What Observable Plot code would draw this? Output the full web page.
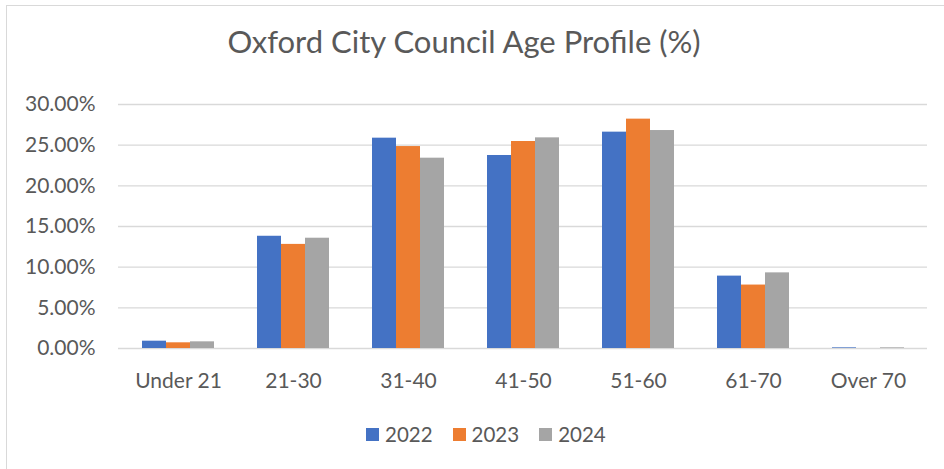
<!DOCTYPE html>
<html>
<head>
<meta charset="utf-8">
<script src="https://cdn.jsdelivr.net/npm/d3@7"></script>
<script src="https://cdn.jsdelivr.net/npm/@observablehq/plot@0.6"></script>
<style>
  html, body { margin: 0; padding: 0; background: #ffffff; }
  #chart { position: relative; width: 944px; height: 469px; overflow: hidden; background: #ffffff; font-family: Lato, "Open Sans", sans-serif; color: #595959; }
  #frame { position: absolute; left: 6px; top: 5px; width: 1000px; height: 1000px; border-left: 1.3px solid #d9d9d9; border-top: 1.3px solid #d9d9d9; }
  #title { position: absolute; left: 0; top: 26px; width: 928px; text-align: center; font-size: 31px; line-height: 1; white-space: nowrap; }
  #legend { position: absolute; left: 366px; top: 424px; display: flex; align-items: center; font-size: 20.5px; line-height: 1; }
  .item { display: flex; align-items: center; margin-right: 20px; }
  .sw { width: 13px; height: 13px; margin-right: 6px; display: inline-block; }
  .layer { position: absolute; left: 0; top: 0; }
</style>
</head>
<body>
<div id="chart">
  <div id="frame"></div>
  <div id="title">Oxford City Council Age Profile (%)</div>
  <div id="legend"></div>
</div>
<script>
const categories = ["Under 21", "21-30", "31-40", "41-50", "51-60", "61-70", "Over 70"];
const years = ["2022", "2023", "2024"];
const v2022 = [0.90, 13.80, 25.86, 23.73, 26.60, 8.90, 0.08];
const v2023 = [0.70, 12.80, 24.83, 25.45, 28.20, 7.80, 0.00];
const v2024 = [0.82, 13.56, 23.40, 25.90, 26.80, 9.30, 0.08];
const yTicks = [0, 5, 10, 15, 20, 25, 30];
const colors = ["#4472C4", "#ED7D31", "#A5A5A5"];

const series = [v2022, v2023, v2024];
const data = categories.flatMap((c, i) => years.map((y, j) => ({cat: c, year: y, value: series[j][i]})));

const dims = {width: 944, height: 469, marginTop: 104, marginBottom: 121, marginLeft: 118, marginRight: 17};
const fmt = d => d.toFixed(2) + "%";
const axisStyle = {fontFamily: "Lato, 'Open Sans', sans-serif", fontSize: "21px", color: "#595959", background: "transparent"};

const grid = Plot.plot({
  ...dims,
  style: axisStyle,
  y: {domain: [0, 30], ticks: yTicks, tickFormat: fmt, tickSize: 0, tickPadding: 23, label: null},
  marks: [
    Plot.ruleY(yTicks, {stroke: "#d9d9d9", strokeWidth: 1.3})
  ]
});
grid.classList.add("layer");

const bars = Plot.plot({
  ...dims,
  style: axisStyle,
  fx: {domain: categories, paddingInner: 0.377, paddingOuter: 0.1885, label: null, tickSize: 0, tickPadding: 25, axis: "bottom"},
  x: {domain: years, axis: null, padding: 0},
  y: {domain: [0, 30], axis: null},
  color: {domain: years, range: colors},
  marks: [
    Plot.barY(data, {fx: "cat", x: "year", y: "value", fill: "year"})
  ]
});
bars.classList.add("layer");

const chart = document.getElementById("chart");
chart.insertBefore(grid, document.getElementById("title"));
chart.insertBefore(bars, document.getElementById("title"));

const legend = document.getElementById("legend");
years.forEach((y, i) => {
  const item = document.createElement("div");
  item.className = "item";
  const sw = document.createElement("span");
  sw.className = "sw";
  sw.style.background = colors[i];
  const t = document.createElement("span");
  t.textContent = y;
  item.appendChild(sw);
  item.appendChild(t);
  legend.appendChild(item);
});
</script>
</body>
</html>
